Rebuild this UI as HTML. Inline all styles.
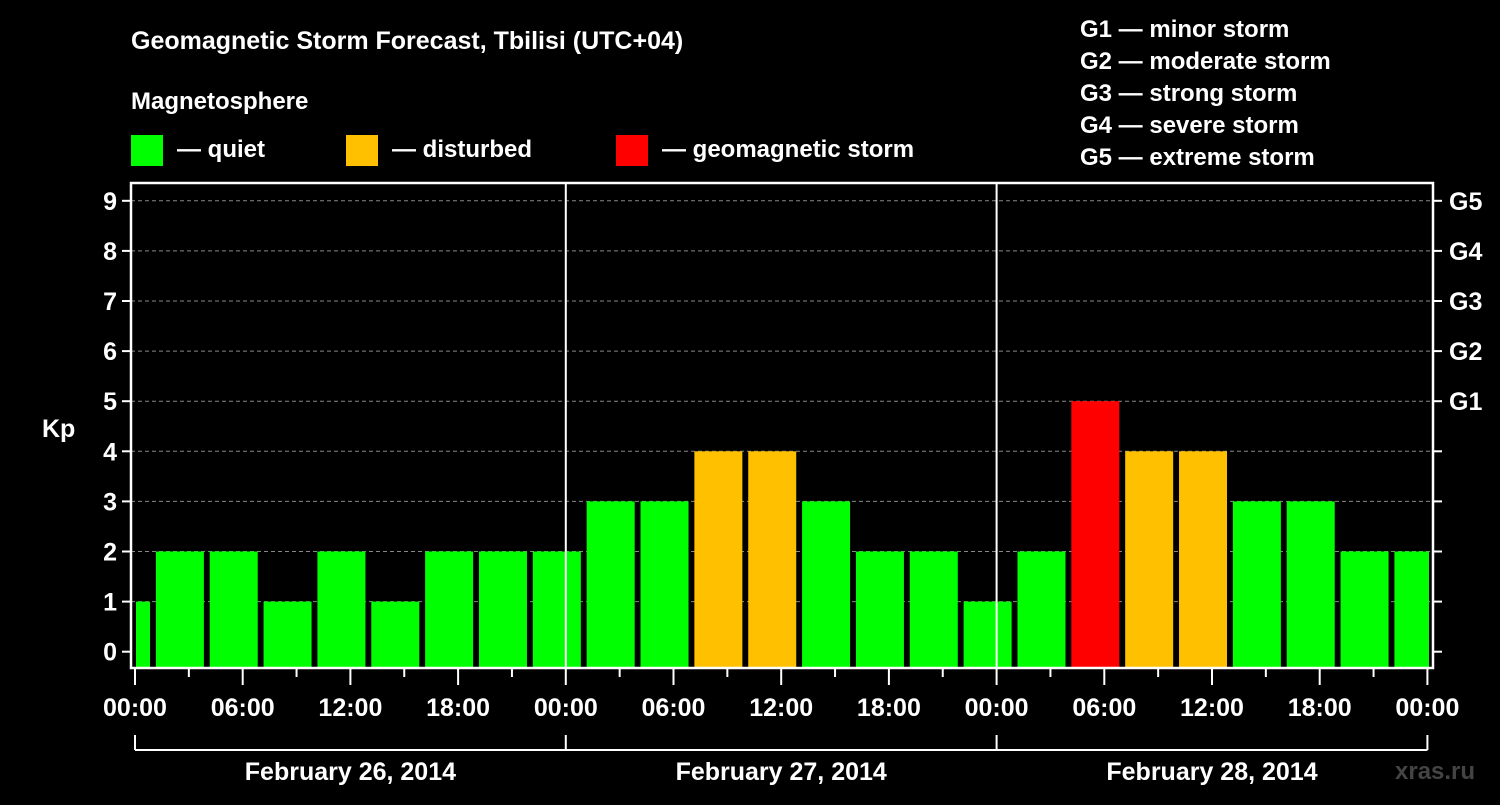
<!DOCTYPE html>
<html><head><meta charset="utf-8"><style>
html,body{margin:0;padding:0;background:#000;}
svg text{font-family:"Liberation Sans",sans-serif;font-weight:bold;fill:#fff;}
</style></head><body>
<svg id="chart" width="1500" height="800" xmlns="http://www.w3.org/2000/svg">
<rect width="1500" height="800" fill="#000"/>
<text x="131" y="49" font-size="25">Geomagnetic Storm Forecast, Tbilisi (UTC+04)</text>
<text x="131" y="109" font-size="24">Magnetosphere</text>
<g><rect x="131" y="135" width="32" height="31" fill="#00ff00"/><text x="177" y="157" font-size="24">— quiet</text></g>
<g><rect x="346" y="135" width="32" height="31" fill="#ffc000"/><text x="392" y="157" font-size="24">— disturbed</text></g>
<g><rect x="616" y="135" width="32" height="31" fill="#ff0000"/><text x="662" y="157" font-size="24">— geomagnetic storm</text></g>
<g font-size="24">
<text x="1080" y="37">G1 — minor storm</text>
<text x="1080" y="69">G2 — moderate storm</text>
<text x="1080" y="101">G3 — strong storm</text>
<text x="1080" y="133">G4 — severe storm</text>
<text x="1080" y="165">G5 — extreme storm</text>
</g>
<text x="42" y="437" font-size="25">Kp</text>
<text x="1395" y="779" font-size="24" fill="#444" style="fill:#444">xras.ru</text>
<g id="grid"></g><g id="bars"></g><g id="axes"></g>
</svg>
<script>
const hours = [-0.5,2.5,5.5,8.5,11.5,14.5,17.5,20.5,23.5,26.5,29.5,32.5,35.5,38.5,41.5,44.5,47.5,50.5,53.5,56.5,59.5,62.5,65.5,68.5,71.5];
const kpValues = [1,2,2,1,2,1,2,2,2,3,3,4,4,3,2,2,1,2,5,4,4,3,3,2,2];
const yTicks = [0,1,2,3,4,5,6,7,8,9];
const gLabels = ["","","","","","G1","G2","G3","G4","G5"];
const xTickLabels = ["00:00","06:00","12:00","18:00","00:00","06:00","12:00","18:00","00:00","06:00","12:00","18:00","00:00"];
const dayLabels = ["February 26, 2014","February 27, 2014","February 28, 2014"];
const NS="http://www.w3.org/2000/svg";
const L=131,R=1433,T=183,B=668,X0=135,PXH=17.95;
const x=h=>X0+h*PXH, y=v=>651.7-v*50.1;
function mk(tag,attrs,parent,txt){const e=document.createElementNS(NS,tag);for(const k in attrs)e.setAttribute(k,attrs[k]);if(txt!==undefined)e.textContent=txt;parent.appendChild(e);return e;}
const grid=document.getElementById('grid'),bars=document.getElementById('bars'),axes=document.getElementById('axes');
yTicks.forEach((v,i)=>{
 if(v>0){const g=mk('line',{x1:L,x2:R,y1:y(v),y2:y(v),stroke:'#888','stroke-dasharray':'4,3','stroke-width':1},grid);
 
 }
 const t=mk('line',{x1:L-9,x2:L,y1:y(v),y2:y(v),stroke:'#fff','stroke-width':2},axes);
 
 
 const t2=mk('line',{x1:R,x2:R+9,y1:y(v),y2:y(v),stroke:'#fff','stroke-width':2},axes);
 
 
 const lb=mk('text',{x:L-14,y:y(v)+9,'font-size':25,'text-anchor':'end'},axes,String(v));
 
 
 if(gLabels[i]){const gl=mk('text',{x:1449,y:y(v)+9,'font-size':25},axes,gLabels[i]);
 
 }
});
hours.forEach((h,i)=>{
 const v=kpValues[i];
 const col=v>=5?'#ff0000':(v>=4?'#ffc000':'#00ff00');
 let x1=x(h)-24,x2=x(h)+24;x1=Math.max(x1,L+5);x2=Math.min(x2,R-4);
 const b=mk('rect',{x:x1,y:y(v),width:x2-x1,height:B-y(v),fill:col},bars);
 
 
});
[1,2].forEach(d=>{const s=mk('line',{x1:x(d*24),x2:x(d*24),y1:T,y2:B,stroke:'#fff','stroke-width':2},axes);
 
 });
const fr=mk('rect',{x:L,y:T,width:R-L,height:B-T,fill:'none',stroke:'#fff','stroke-width':2.5},axes);


for(let h=0;h<=72;h+=3){const major=h%6===0;const t=mk('line',{x1:x(h),x2:x(h),y1:B,y2:B+(major?17:9),stroke:'#fff','stroke-width':2},axes);
 
 }
xTickLabels.forEach((s,i)=>{const t=mk('text',{x:x(i*6),y:716,'font-size':25,'text-anchor':'middle'},axes,s);
 
 });
const br=mk('line',{x1:x(0),x2:x(72),y1:750,y2:750,stroke:'#fff','stroke-width':2},axes);


[0,1,2,3].forEach(d=>{const t=mk('line',{x1:x(d*24),x2:x(d*24),y1:735,y2:750,stroke:'#fff','stroke-width':2},axes);
 
 });
dayLabels.forEach((s,i)=>{const t=mk('text',{x:x(i*24+12),y:780,'font-size':25,'text-anchor':'middle'},axes,s);
 
 });
</script>
</body></html>
